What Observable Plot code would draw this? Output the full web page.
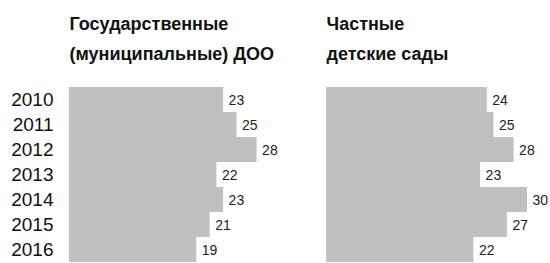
<!DOCTYPE html>
<html>
<head>
<meta charset="utf-8">
<script src="https://cdn.jsdelivr.net/npm/d3@7"></script>
<script src="https://cdn.jsdelivr.net/npm/@observablehq/plot@0.6"></script>
<style>
  html, body { margin: 0; padding: 0; background: #fff; }
</style>
</head>
<body>
<div id="chart"></div>
<script>
const years = ["2010", "2011", "2012", "2013", "2014", "2015", "2016"];
const stateValues = [23, 25, 28, 22, 23, 21, 19];
const privateValues = [24, 25, 28, 23, 30, 27, 22];
const panels = ["Государственные\n(муниципальные) ДОО", "Частные\nдетские сады"];

const data = years.flatMap((year, i) => [
  {panel: panels[0], year, value: stateValues[i]},
  {panel: panels[1], year, value: privateValues[i]}
]);

const chart = Plot.plot({
  width: 550,
  height: 263,
  marginTop: 86,
  marginLeft: 68,
  marginRight: 22,
  marginBottom: 0,
  style: {fontFamily: "'Liberation Sans', Arial, sans-serif", background: "#fff", color: "#111"},
  fx: {domain: panels, paddingInner: 0.217, paddingOuter: 0, axis: null},
  x: {domain: [0, 30], axis: null},
  y: {domain: years, padding: 0},
  marks: [
    Plot.barX(data, {fx: "panel", y: "year", x: "value", fill: "#c0c0c0"}),
    Plot.text(data, {fx: "panel", y: "year", x: "value", text: d => String(d.value), textAnchor: "start", dx: 5, dy: 1, fontSize: 14, fill: "#222"}),
    Plot.axisY({tickSize: 0, tickPadding: 16, fontSize: 19, label: null, fill: "#111"}),
    Plot.text(panels, {fx: d => d, text: d => d, frameAnchor: "top-left", textAnchor: "start", lineAnchor: "bottom", lineHeight: 30 / 18, dy: -27, fontSize: 18, fontWeight: "bold", fill: "#111"})
  ]
});
document.getElementById("chart").appendChild(chart);
</script>
</body>
</html>
